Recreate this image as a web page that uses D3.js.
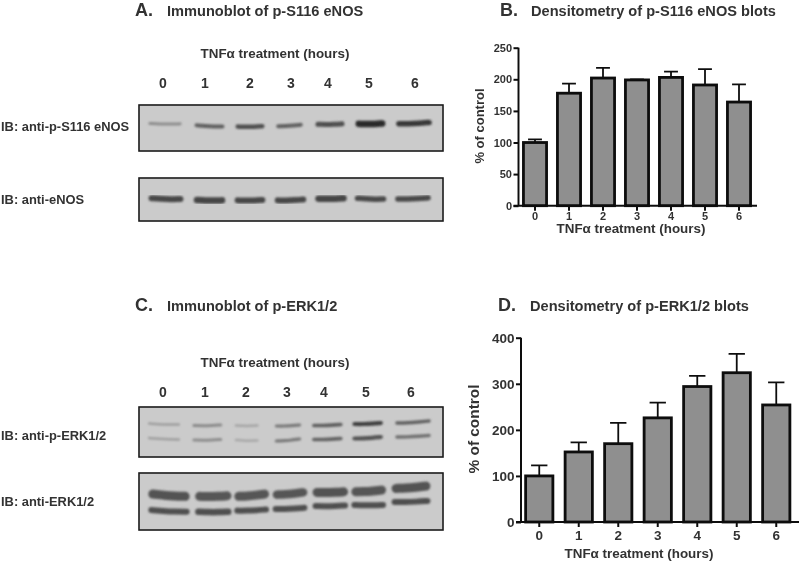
<!DOCTYPE html>
<html><head><meta charset="utf-8">
<script src="https://cdn.jsdelivr.net/npm/d3@7"></script>
<style>html,body{margin:0;padding:0;background:#fff}svg{display:block}text{font-family:"Liberation Sans",Arial,sans-serif;font-weight:bold;fill:#333}</style>
</head><body><svg id="c" width="800" height="562"></svg>
<script>
const hours = ["0","1","2","3","4","5","6"];
const meanB = [100,178,202,199,203,191,164];
const errB = [105,193,218,200,212,216,192];
const meanD = [100,152,170,226,294,324,254];
const errD = [123,173,215,259,317,365,303];
const ticksB = [0,50,100,150,200,250];
const ticksD = [0,100,200,300,400];
// blot densities by lane (0..1), band length and thickness, and migration level in the panel (0 top, 1 bottom)
const aIntensity = [.32,.62,.75,.62,.75,1,.9];
const aLength = [.8,.72,.7,.64,.7,.72,.86];
const aThick = [3,4,4.5,4,5,6.5,5.5];
const aLevelL = [.40,.44,.47,.46,.42,.41,.41];
const aLevelR = [.41,.47,.46,.43,.41,.40,.38];
const aShift = [0,3,2,0,-1,-2,0];
const bIntensity = [.8,.82,.8,.8,.82,.78,.78];
const bLength = [.84,.76,.74,.76,.76,.76,.86];
const bThick = [6,6.5,6,6,6.5,5.5,5.5];
const bLevelL = [.47,.51,.52,.52,.48,.47,.49];
const bLevelR = [.49,.52,.51,.50,.47,.49,.46];
const bShift = [1,3,2,1,0,-2,-1];
const c1UI = [.2,.34,.16,.46,.64,.85,.62];
const c1ULen = [.78,.72,.58,.64,.74,.74,.86];
const c1UL = [.33,.37,.37,.38,.37,.34,.32];
const c1UR = [.35,.36,.37,.36,.35,.32,.28];
const c1LI = [.2,.32,.14,.46,.6,.72,.52];
const c1LLen = [.78,.72,.58,.64,.74,.74,.86];
const c1LL = [.62,.66,.66,.68,.65,.63,.60];
const c1LR = [.65,.65,.67,.64,.63,.60,.57];
const c1Th = [2.5,3,2.5,3.2,3.6,4.2,3.4];
const c1Shift = [0,2,0,0,-2,-3,1];
const c2UI = [.72,.7,.7,.7,.72,.7,.72];
const c2ULen = [1.0,.88,.84,.84,.86,.84,.94];
const c2UL = [.37,.41,.41,.38,.34,.33,.27];
const c2UR = [.41,.40,.37,.34,.33,.30,.23];
const c2Th = [9,9,9,8.5,9,9,9];
const c2LI = [.74,.74,.74,.74,.74,.74,.74];
const c2LLen = [1.0,.88,.84,.84,.86,.84,.94];
const c2LL = [.65,.68,.66,.63,.58,.56,.51];
const c2LR = [.68,.68,.64,.61,.57,.56,.49];
const c2LTh = [6,6.5,6,6,6,6,6];
const c2Shift = [5,8,5,2,1,-2,-1];

const svg = d3.select("#c");
const defs = svg.append("defs");
defs.append("filter").attr("id","soft").append("feGaussianBlur").attr("stdDeviation",0.45);
defs.append("filter").attr("id","blur").attr("x","-20%").attr("y","-100%").attr("width","140%").attr("height","300%").append("feGaussianBlur").attr("stdDeviation",0.9);
const root = svg.append("g").attr("filter","url(#soft)");
const ink = d3.scaleLinear().domain([0,1]).range(["#bcbcbc","#2a2a2a"]);

function txt(x,y,s,size,anchor,col){return root.append("text").attr("x",x).attr("y",y).attr("font-size",size).attr("text-anchor",anchor||"start").style("fill",col||null).text(s);}

function panel(y0,y1,lane,bands){
  const g = root.append("g");
  g.append("rect").attr("x",139).attr("y",y0).attr("width",304).attr("height",y1-y0).attr("fill","#cbcbcb").attr("stroke","#1c1c1c").attr("stroke-width",1.6);
  const lvl = d3.scaleLinear().domain([0,1]).range([y0,y1]);
  bands.forEach(b=>{
    const laneW = lane(1)-lane(0);
    g.append("g").attr("filter","url(#blur)").selectAll("path").data(hours).join("path")
      .attr("d",(h,i)=>{const cx=lane(i)+b.s[i],w=b.len[i]*laneW/2-b.t[i]/2;
        return d3.line().curve(d3.curveBasis)([[cx-w,lvl(b.l[i])],[cx-w/3,lvl(b.l[i]*.7+b.r[i]*.3)+.4],[cx+w/3,lvl(b.l[i]*.3+b.r[i]*.7)+.4],[cx+w,lvl(b.r[i])]]);})
      .attr("fill","none").attr("stroke",(h,i)=>ink(b.i[i])).attr("stroke-linecap","round")
      .attr("stroke-width",(h,i)=>b.t[i]);
  });
}

function blotHeader(letter,ly,title,ty,tnfY,labelY,labelX){
  txt(135,ly,letter,18);
  txt(167,ty,title,14.6);
  txt(275,tnfY,"TNFα treatment (hours)",13.4,"middle");
  hours.forEach((h,i)=>txt(labelX[i],labelY,h,14,"middle"));
}

// A
blotHeader("A.",16,"Immunoblot of p-S116 eNOS",16,58,88,[163,205,250,291,328,369,415]);
const laneA = d3.scaleLinear().domain([0,6]).range([165,414]);
panel(105,151,laneA,[{i:aIntensity,len:aLength,t:aThick,l:aLevelL,r:aLevelR,s:aShift}]);
panel(178,221,laneA,[{i:bIntensity,len:bLength,t:bThick,l:bLevelL,r:bLevelR,s:bShift}]);
txt(1,131,"IB: anti-p-S116 eNOS",12.9);
txt(1,204,"IB: anti-eNOS",12.9);

// C
blotHeader("C.",311,"Immunoblot of p-ERK1/2",311,367,397,[163,205,246,287,324,366,411]);
const laneC = d3.scaleLinear().domain([0,6]).range([164,412]);
panel(407,457,laneC,[
  {i:c1UI,len:c1ULen,t:c1Th,l:c1UL,r:c1UR,s:c1Shift},
  {i:c1LI,len:c1LLen,t:c1Th,l:c1LL,r:c1LR,s:c1Shift}]);
panel(473,530,laneC,[
  {i:c2UI,len:c2ULen,t:c2Th,l:c2UL,r:c2UR,s:c2Shift},
  {i:c2LI,len:c2LLen,t:c2LTh,l:c2LL,r:c2LR,s:c2Shift}]);
txt(1,440,"IB: anti-p-ERK1/2",12.9);
txt(1,506,"IB: anti-ERK1/2",12.9);

function bars(o){
  const g = root.append("g");
  const x = d3.scaleBand().domain(hours).range(o.xr).paddingInner(o.pad).paddingOuter(o.pad/2);
  const y = d3.scaleLinear().domain(o.dom).range(o.yr);
  const bw = x.bandwidth();
  g.selectAll(".e").data(hours).join("path").attr("fill","none").attr("stroke","#111").attr("stroke-width",1.8)
    .attr("d",(h,i)=>{const c=x(h)+bw/2,cap=bw*.3;return `M${c},${y(o.mean[i])}V${y(o.err[i])}M${c-cap},${y(o.err[i])}H${c+cap}`;});
  g.selectAll(".b").data(hours).join("rect").attr("x",h=>x(h)).attr("width",bw)
    .attr("y",(h,i)=>y(o.mean[i])).attr("height",(h,i)=>y(0)-y(o.mean[i]))
    .attr("fill","#8f8f8f").attr("stroke","#0c0c0c").attr("stroke-width",2.8);
  const ya = g.append("g").attr("transform",`translate(${o.ax},0)`).call(d3.axisLeft(y).tickValues(o.ticks).tickSize(o.tick).tickPadding(1.5));
  ya.selectAll("text").attr("font-size",o.fs).style("fill","#333");
  const xa = g.append("g").attr("transform",`translate(0,${y(0)})`).call(d3.axisBottom(x).tickSize(o.tick).tickPadding(o.xpad));
  xa.selectAll("text").attr("font-size",o.fs).style("fill","#333");
  xa.select(".domain").attr("d",`M${o.ax-o.tick},0H${o.xend}`);
  ya.select(".domain").attr("d",`M0,${o.yr[1]}V${o.yr[0]}`);
  [ya,xa].forEach(a=>{a.selectAll("line,path").attr("stroke","#111").attr("stroke-width",2);});
  txt(o.lx,o.ly,o.xlabel,o.xfs,"middle");
  root.append("text").attr("transform",`translate(${o.ylx},${o.yly}) rotate(-90)`).attr("font-size",o.yfs).attr("text-anchor","middle").text("% of control");
}

txt(500,16,"B.",18);
txt(531,16,"Densitometry of p-S116 eNOS blots",14.6);
bars({xr:[518,756],pad:.32,dom:[0,250],yr:[205.7,47.7],mean:meanB,err:errB,ticks:ticksB,ax:518.5,tick:5,fs:11,xpad:1.5,xend:757,
  lx:631,ly:233,xlabel:"TNFα treatment (hours)",xfs:13.4,ylx:484,yly:126,yfs:13});

txt(498,311,"D.",18);
txt(530,311,"Densitometry of p-ERK1/2 blots",14.6);
bars({xr:[519.5,796],pad:.31,dom:[0,400],yr:[522,337.7],mean:meanD,err:errD,ticks:ticksD,ax:521,tick:5,fs:13.5,xpad:3,xend:799,
  lx:639,ly:558,xlabel:"TNFα treatment (hours)",xfs:13.4,ylx:479,yly:429,yfs:15.4});
</script></body></html>
